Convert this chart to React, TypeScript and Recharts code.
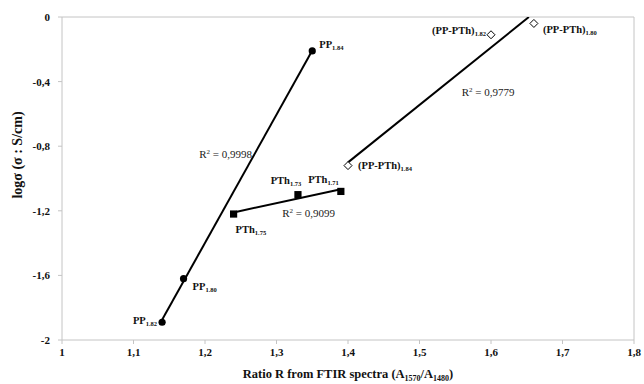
import React from 'react';
import { ScatterChart, Scatter, XAxis, YAxis, ReferenceLine, Label } from 'recharts';

// axis ticks
const xTicks = [1, 1.1, 1.2, 1.3, 1.4, 1.5, 1.6, 1.7, 1.8];
const yTicks = [-2, -1.6, -1.2, -0.8, -0.4, 0];

// PP samples
const ppRatio = [1.14, 1.17, 1.35];
const ppLogSigma = [-1.89, -1.62, -0.21];
const ppSub = ['1.82', '1.80', '1.84'];

// PTh samples
const pthRatio = [1.24, 1.33, 1.39];
const pthLogSigma = [-1.22, -1.1, -1.08];
const pthSub = ['1.75', '1.73', '1.71'];

// PP-PTh samples
const blendRatio = [1.4, 1.6, 1.66];
const blendLogSigma = [-0.92, -0.11, -0.04];
const blendSub = ['1.84', '1.82', '1.80'];

// trendline ends
const ppTrendRatio = [1.14, 1.35];
const ppTrendLog = [-1.875, -0.208];
const pthTrendRatio = [1.24, 1.39];
const pthTrendLog = [-1.21, -1.066];
const blendTrendRatio = [1.4, 1.653];
const blendTrendLog = [-0.9, 0];

// R² annotations
const r2Values = ['0,9998', '0,9099', '0,9779'];
const r2Ratio = [1.192, 1.308, 1.559];
const r2Log = [-0.873, -1.238, -0.489];

// label placement around each marker (px)
const ppLabelPos = [
  { dx: -5, dy: 2, anchor: 'end' },
  { dx: 9, dy: 11, anchor: 'start' },
  { dx: 7, dy: -3, anchor: 'start' },
];
const pthLabelPos = [
  { dx: 2, dy: 19, anchor: 'start' },
  { dx: -12, dy: -11, anchor: 'middle' },
  { dx: -2, dy: -8, anchor: 'end' },
];
const blendLabelPos = [
  { dx: 10, dy: 3, anchor: 'start' },
  { dx: -5, dy: -1, anchor: 'end' },
  { dx: 9, dy: 10, anchor: 'start' },
];

const FONT = '"Liberation Serif", "Times New Roman", serif';
const AXIS_GREY = '#c4c4c4';

const toPoints = (xs: number[], ys: number[], subs?: string[]) =>
  xs.map((x, i) => ({ x, y: ys[i], sub: subs ? subs[i] : '' }));

const ppData = toPoints(ppRatio, ppLogSigma, ppSub);
const pthData = toPoints(pthRatio, pthLogSigma, pthSub);
const blendData = toPoints(blendRatio, blendLogSigma, blendSub);
const ppTrend = toPoints(ppTrendRatio, ppTrendLog);
const pthTrend = toPoints(pthTrendRatio, pthTrendLog);
const blendTrend = toPoints(blendTrendRatio, blendTrendLog);
const r2Data = r2Ratio.map((x, i) => ({ x, y: r2Log[i], text: r2Values[i] }));

const comma = (v: number) => String(v).replace('.', ',');

function PointLabel({ x, y, main, sub, anchor }: any) {
  return (
    <text x={x} y={y} textAnchor={anchor} fontFamily={FONT} fontWeight="bold" fontSize={10.5} fill="#111">
      {main}
      <tspan fontSize={6.5} dy={2}>{sub}</tspan>
    </text>
  );
}

const makeShape = (kind: 'circle' | 'square' | 'diamond', main: string, placement: any[]) =>
  (props: any) => {
    const { cx, cy, payload, index } = props;
    const p = placement[index] || { dx: 6, dy: 0, anchor: 'start' };
    let marker;
    if (kind === 'circle') marker = <circle cx={cx} cy={cy} r={3.6} fill="#000" />;
    else if (kind === 'square') marker = <rect x={cx - 3.6} y={cy - 3.6} width={7.2} height={7.2} fill="#000" />;
    else
      marker = (
        <polygon
          points={`${cx},${cy - 4} ${cx + 4},${cy} ${cx},${cy + 4} ${cx - 4},${cy}`}
          fill="#fff"
          stroke="#000"
          strokeWidth={1}
        />
      );
    return (
      <g>
        {marker}
        <PointLabel x={cx + p.dx} y={cy + p.dy} main={main} sub={payload.sub} anchor={p.anchor} />
      </g>
    );
  };

const noMarker = () => <g />;

const r2Shape = (props: any) => {
  const { cx, cy, payload } = props;
  return (
    <text x={cx} y={cy} fontFamily={FONT} fontSize={11} fill="#222">
      R<tspan fontSize={7} dy={-4}>2</tspan>
      <tspan dy={4}>{' = ' + payload.text}</tspan>
    </text>
  );
};

const XTitle = (props: any) => {
  const vb = props.viewBox || { x: 62, width: 572 };
  const cx = vb.x + vb.width / 2;
  return (
    <text x={cx} y={378} textAnchor="middle" fontFamily={FONT} fontWeight="bold" fontSize={12.5} fill="#111">
      Ratio R from FTIR spectra (A<tspan fontSize={8} dy={3}>1570</tspan>
      <tspan dy={-3}>/A</tspan>
      <tspan fontSize={8} dy={3}>1480</tspan>
      <tspan dy={-3}>)</tspan>
    </text>
  );
};

const YTitle = () => (
  <text
    x={22}
    y={155}
    transform="rotate(-90, 22, 155)"
    textAnchor="middle"
    fontFamily={FONT}
    fontWeight="bold"
    fontSize={14}
    fill="#111"
  >
    logσ (σ : S/cm)
  </text>
);

const tickStyle = { fill: '#111', fontSize: 11, fontWeight: 'bold', fontFamily: FONT };

export default function App() {
  return (
    <div style={{ position: 'absolute', left: 0, top: 0, width: 644, height: 384, background: '#fff' }}>
      <ScatterChart width={644} height={384} margin={{ top: 17, right: 10, bottom: 0, left: 12 }}>
        <XAxis
          type="number"
          dataKey="x"
          domain={[1, 1.8]}
          ticks={xTicks}
          tickFormatter={comma}
          stroke={AXIS_GREY}
          tick={tickStyle}
          tickSize={4}
          tickMargin={4}
          height={44}
          allowDataOverflow
        >
          <Label content={<XTitle />} />
        </XAxis>
        <YAxis
          type="number"
          dataKey="y"
          domain={[-2, 0]}
          ticks={yTicks}
          tickFormatter={comma}
          stroke={AXIS_GREY}
          tick={tickStyle}
          tickSize={4}
          tickMargin={8}
          width={50}
          allowDataOverflow
        >
          <Label content={<YTitle />} />
        </YAxis>
        <ReferenceLine y={0} stroke={AXIS_GREY} />
        <ReferenceLine x={1.8} stroke={AXIS_GREY} />
        <Scatter data={ppTrend} line={{ stroke: '#000', strokeWidth: 2 }} shape={noMarker} isAnimationActive={false} />
        <Scatter data={pthTrend} line={{ stroke: '#000', strokeWidth: 2 }} shape={noMarker} isAnimationActive={false} />
        <Scatter data={blendTrend} line={{ stroke: '#000', strokeWidth: 2 }} shape={noMarker} isAnimationActive={false} />
        <Scatter data={r2Data} shape={r2Shape} isAnimationActive={false} />
        <Scatter data={ppData} shape={makeShape('circle', 'PP', ppLabelPos)} isAnimationActive={false} />
        <Scatter data={pthData} shape={makeShape('square', 'PTh', pthLabelPos)} isAnimationActive={false} />
        <Scatter data={blendData} shape={makeShape('diamond', '(PP-PTh)', blendLabelPos)} isAnimationActive={false} />
      </ScatterChart>
    </div>
  );
}
